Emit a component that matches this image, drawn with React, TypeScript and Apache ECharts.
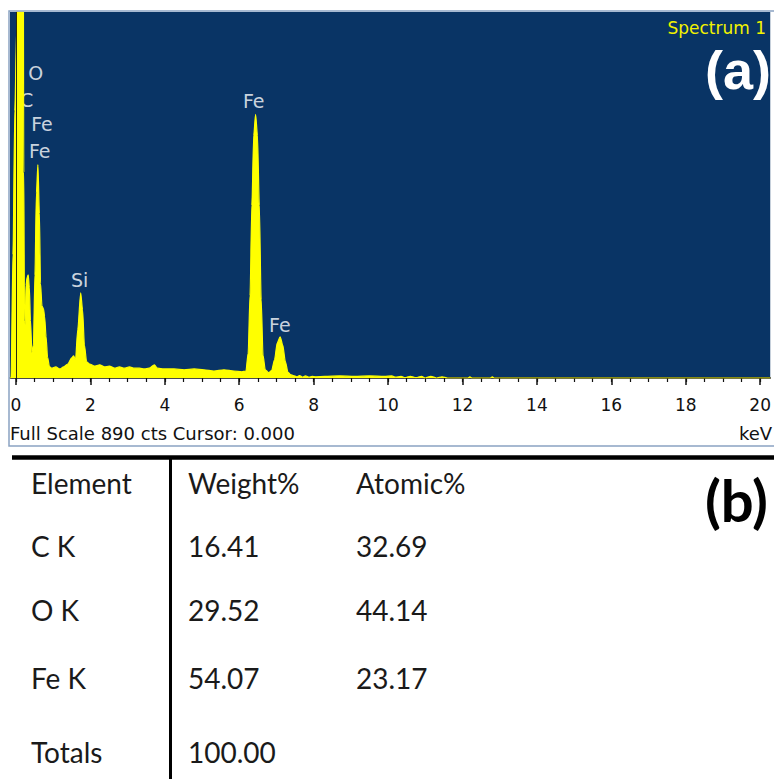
import React, { useEffect, useRef } from "react";
import * as echarts from "echarts";

// EDS spectrum: energy (keV) and counts
const ENERGY_KEV = [
  -0.16, -0.13, -0.08, -0.03, 0.02, 0.05, 0.1, 0.15, 0.19, 0.21, 0.23, 0.25, 0.27, 0.3, 0.33,
  0.36, 0.39, 0.43, 0.47, 0.51, 0.55, 0.59, 0.63, 0.66, 0.7, 0.74, 0.77, 0.81, 0.85, 0.9, 0.96,
  1.07, 1.18, 1.28, 1.39, 1.5, 1.55, 1.6, 1.66, 1.74, 1.79, 1.84, 1.9, 1.98, 2.11, 2.25, 2.38,
  2.51, 2.65, 2.78, 2.91, 3.05, 3.18, 3.32, 3.45, 3.58, 3.72, 3.8, 3.98, 4.25, 4.52, 4.79, 5.05,
  5.32, 5.59, 5.86, 6.07, 6.18, 6.24, 6.29, 6.34, 6.39, 6.44, 6.49, 6.54, 6.59, 6.64, 6.7, 6.79,
  6.87, 6.95, 7.02, 7.1, 7.17, 7.24, 7.31, 7.38, 7.45, 7.55, 7.62, 7.7, 7.78, 7.88, 7.96, 8.05,
  8.3, 8.7, 9.1, 9.5, 9.9, 10.1, 10.2, 10.35, 10.45, 10.6, 10.75, 10.9, 11.0, 11.15, 11.3, 11.45,
  11.6, 11.75, 12.15, 12.2, 12.25, 12.75, 12.8, 12.85, 13.1, 20.27,
];
const COUNTS = [
  0, 0, 300, 650, 850, 1500, 2600, 2600, 1500, 500, 140, 130, 225, 245, 251,
  220, 140, 62, 80, 250, 450, 519, 400, 230, 175, 168, 150, 100, 50, 28, 24,
  27, 22, 27, 34, 49, 54, 44, 117, 207, 166, 80, 39, 34, 29, 32, 27,
  29, 24, 27, 24, 27, 24, 24, 22, 24, 32, 24, 22, 22, 20, 22, 20,
  17, 20, 17, 15, 17, 60, 200, 420, 590, 641, 590, 420, 190, 55, 20, 13,
  18, 45, 85, 100, 80, 40, 14, 8, 6, 3, 6, 2, 5, 2, 4, 3,
  4, 5, 4, 5, 4, 5, 2, 4, 1, 4, 1, 4, 0, 4, 0, 3,
  0, 0, 0, 3, 0, 0, 3, 0, 0, 0,
];

// Peak identification labels
const PEAK_NAMES = ["O", "C", "Fe", "Fe", "Si", "Fe", "Fe"];
const PEAK_KEV = [0.53, 0.29, 0.7, 0.64, 1.71, 6.39, 7.09];
const PEAK_CTS = [741, 675, 617, 551, 239, 673, 129];

// Axis ticks
const MAJOR_TICKS = [0, 2, 4, 6, 8, 10, 12, 14, 16, 18, 20];
const MINOR_TICKS = [
  0, 0.5, 1, 1.5, 2, 2.5, 3, 3.5, 4, 4.5, 5, 5.5, 6, 6.5, 7, 7.5, 8, 8.5, 9, 9.5, 10,
  10.5, 11, 11.5, 12, 12.5, 13, 13.5, 14, 14.5, 15, 15.5, 16, 16.5, 17, 17.5, 18, 18.5, 19, 19.5, 20,
];
const FULL_SCALE_CTS = 890;
const CURSOR_KEV = 0;

// Quantification table
const TABLE_HEADERS = ["Element", "Weight%", "Atomic%"];
const ELEMENTS = ["C K", "O K", "Fe K"];
const WEIGHT_PCT = [16.41, 29.52, 54.07];
const ATOMIC_PCT = [32.69, 44.14, 23.17];
const TOTAL_WEIGHT = 100.0;

const UI_FONT = "'DejaVu Sans', Verdana, sans-serif";
const TABLE_FONT = "Lato, 'Open Sans', sans-serif";

export default function App() {
  const ref = useRef<HTMLDivElement>(null);

  useEffect(() => {
    if (!ref.current) return;
    const chart = echarts.init(ref.current, undefined, { renderer: "svg" });

    const spectrum = ENERGY_KEV.map((e, i) => [e, COUNTS[i]]);
    const peaks = PEAK_NAMES.map((n, i) => [PEAK_KEV[i], PEAK_CTS[i], n]);

    const colX = [31, 188, 356];
    const rowY = [483, 546, 610, 678, 752];
    const tableTexts: any[] = [];
    const addCell = (text: string, col: number, row: number) =>
      tableTexts.push({
        type: "text",
        x: colX[col],
        y: rowY[row],
        style: {
          text,
          fill: "#1a1a1a",
          font: `28px ${TABLE_FONT}`,
          align: "left",
          verticalAlign: "middle",
        },
      });
    TABLE_HEADERS.forEach((h, c) => addCell(h, c, 0));
    ELEMENTS.forEach((el, r) => {
      addCell(el, 0, r + 1);
      addCell(WEIGHT_PCT[r].toFixed(2), 1, r + 1);
      addCell(ATOMIC_PCT[r].toFixed(2), 2, r + 1);
    });
    addCell("Totals", 0, 4);
    addCell(TOTAL_WEIGHT.toFixed(2), 1, 4);

    chart.setOption({
      animation: false,
      backgroundColor: "#ffffff",
      grid: {
        left: 10,
        right: 0,
        top: 12,
        bottom: 401,
        show: true,
        backgroundColor: "#093465",
        borderWidth: 0,
      },
      xAxis: [
        {
          type: "value",
          min: -0.16,
          max: 20.27,
          position: "bottom",
          splitLine: { show: false },
          axisLine: { show: true, lineStyle: { color: "#111111", width: 1.5 } },
          axisTick: {
            show: true,
            customValues: MAJOR_TICKS,
            length: 7,
            lineStyle: { color: "#111111", width: 1.5 },
          },
          axisLabel: {
            show: true,
            customValues: MAJOR_TICKS,
            margin: 18,
            color: "#111111",
            fontFamily: UI_FONT,
            fontSize: 17,
          },
        },
        {
          type: "value",
          min: -0.16,
          max: 20.27,
          position: "bottom",
          splitLine: { show: false },
          axisLine: { show: false },
          axisTick: {
            show: true,
            customValues: MINOR_TICKS,
            length: 4,
            lineStyle: { color: "#111111", width: 1.2 },
          },
          axisLabel: { show: false },
        },
      ],
      yAxis: { type: "value", min: 0, max: FULL_SCALE_CTS, show: false },
      series: [
        {
          type: "line",
          xAxisIndex: 0,
          data: spectrum,
          showSymbol: false,
          smooth: 0.25,
          smoothMonotone: "x",
          clip: true,
          lineStyle: { color: "#ffff00", width: 1.2 },
          areaStyle: { color: "#ffff00", opacity: 1 },
          silent: true,
          markLine: {
            silent: true,
            symbol: "none",
            label: { show: false },
            lineStyle: { color: "#2a2a10", width: 1, type: "solid" },
            data: [{ xAxis: CURSOR_KEV }],
          },
        },
        {
          type: "scatter",
          xAxisIndex: 0,
          data: peaks,
          symbolSize: 1,
          itemStyle: { color: "rgba(0,0,0,0)" },
          silent: true,
          label: {
            show: true,
            position: "inside",
            formatter: (p: any) => p.value[2],
            color: "#ffffff",
            fontFamily: UI_FONT,
            fontSize: 19,
          },
        },
      ],
      graphic: [
        {
          type: "rect",
          z: 100,
          shape: { x: 9, y: 11, width: 780, height: 435 },
          style: { fill: "none", stroke: "#8aa3c2", lineWidth: 1.5 },
        },
        {
          type: "text",
          z: 100,
          x: 766,
          y: 28,
          style: {
            text: "Spectrum 1",
            fill: "#f2f200",
            font: `17px ${UI_FONT}`,
            align: "right",
            verticalAlign: "middle",
          },
        },
        {
          type: "text",
          z: 100,
          x: 771,
          y: 70,
          style: {
            text: "(a)",
            fill: "#ffffff",
            font: `bold 54px 'Liberation Sans', Arial, sans-serif`,
            align: "right",
            verticalAlign: "middle",
          },
        },
        {
          type: "text",
          z: 100,
          x: 10,
          y: 433,
          style: {
            text: `Full Scale ${FULL_SCALE_CTS} cts Cursor: ${CURSOR_KEV.toFixed(3)}`,
            fill: "#111111",
            font: `18px ${UI_FONT}`,
            align: "left",
            verticalAlign: "middle",
          },
        },
        {
          type: "text",
          z: 100,
          x: 739,
          y: 433,
          style: {
            text: "keV",
            fill: "#111111",
            font: `18px ${UI_FONT}`,
            align: "left",
            verticalAlign: "middle",
          },
        },
        {
          type: "line",
          shape: { x1: 12, y1: 457.5, x2: 774, y2: 457.5 },
          style: { stroke: "#000000", lineWidth: 4.5 },
        },
        {
          type: "line",
          shape: { x1: 170.5, y1: 458, x2: 170.5, y2: 779 },
          style: { stroke: "#000000", lineWidth: 3 },
        },
        ...tableTexts,
        {
          type: "text",
          x: 768,
          y: 499,
          style: {
            text: "(b)",
            fill: "#000000",
            font: `bold 58px ${TABLE_FONT}`,
            align: "right",
            verticalAlign: "middle",
          },
        },
      ],
    });

    return () => chart.dispose();
  }, []);

  return (
    <div
      ref={ref}
      style={{ position: "fixed", left: 0, top: 0, width: 774, height: 779, background: "#ffffff" }}
    />
  );
}
